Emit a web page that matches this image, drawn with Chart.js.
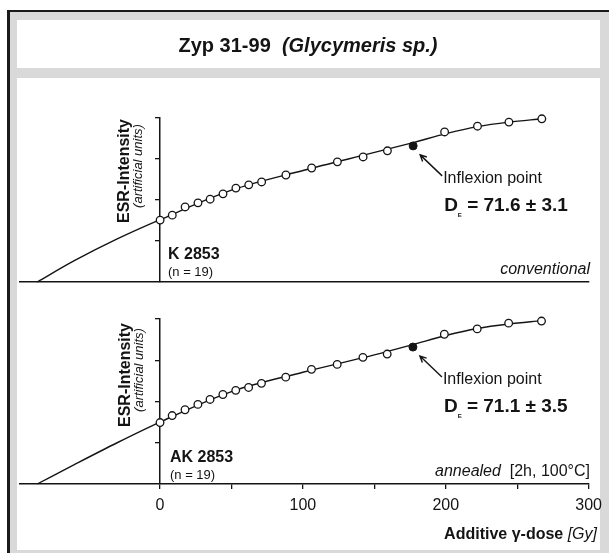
<!DOCTYPE html>
<html>
<head>
<meta charset="utf-8">
<script src="https://cdn.jsdelivr.net/npm/chart.js@4.4.0/dist/chart.umd.min.js"></script>
<style>
  body { margin: 0; width: 609px; height: 553px; background: #fff; position: relative; overflow: hidden; }
  #frame { position: absolute; left: 7px; top: 10px; right: 0; bottom: 0; background: #d9d9d9;
           border-left: 3px solid #1a1a1a; border-top: 2px solid #1a1a1a; }
  .box { position: absolute; background: #fff; }
  canvas { position: absolute; left: 0; top: 0; }
</style>
</head>
<body>
<div id="frame"></div>
<div class="box" style="left:17px;top:20px;width:583px;height:48px"></div>
<div class="box" style="left:17px;top:78px;width:583px;height:472px"></div>
<canvas id="chartTop" width="609" height="553"></canvas>
<canvas id="chartBottom" width="609" height="553"></canvas>
<script>
// Dados
const doses = [0, 8.5, 17.5, 26.5, 35, 44, 53, 62, 71, 88, 106, 124, 142, 159, 199, 222, 244, 267];
const intensityConv = [1.51, 1.63, 1.83, 1.93, 2.02, 2.15, 2.29, 2.37, 2.44, 2.61, 2.78, 2.93, 3.05, 3.20, 3.66, 3.80, 3.90, 3.98];
const intensityAnn = [1.49, 1.66, 1.80, 1.93, 2.05, 2.17, 2.27, 2.34, 2.44, 2.59, 2.78, 2.90, 3.07, 3.15, 3.63, 3.76, 3.90, 3.95];

// Ponto de inflexão (marcador preenchido)
const inflexionDose = 177;
const inflexionConv = 3.32;
const inflexionAnn = 3.32;

// Curva ajustada
const fitDoses = [-86, -60, -30, 0, 50, 100, 150, 177, 200, 222, 244, 267];
const fitConv = [0, 0.52, 1.05, 1.52, 2.24, 2.72, 3.16, 3.40, 3.62, 3.79, 3.90, 3.98];
const fitAnn = [0, 0.47, 1.00, 1.50, 2.24, 2.71, 3.13, 3.38, 3.60, 3.77, 3.88, 3.96];

const xTickValues = [0, 50, 100, 150, 200, 250, 300];
const xLabelValues = [0, 100, 200, 300];
const yTickValues = [1, 2, 3, 4];

const FONT = '"Liberation Sans", Arial, sans-serif';
const INK = '#141414';
Chart.defaults.font.family = FONT;
Chart.defaults.color = INK;

const toPoints = (xs, ys) => xs.map((x, i) => ({ x, y: ys[i] }));

// Desenha um texto composto de vários trechos (fontes diferentes)
const drawRuns = (ctx, runs, x, y, align) => {
    let w = 0;
    runs.forEach(([t, f]) => { ctx.font = f; w += ctx.measureText(t).width; });
    let cx = align === 'right' ? x - w : align === 'center' ? x - w / 2 : x;
    runs.forEach(([t, f, dy]) => {
        ctx.font = f;
        ctx.fillText(t, cx, y + (dy || 0));
        cx += ctx.measureText(t).width;
    });
};

const drawRotated = (ctx, runs, x, y) => {
    ctx.save();
    ctx.translate(x, y);
    ctx.rotate(-Math.PI / 2);
    drawRuns(ctx, runs, 0, 0, 'center');
    ctx.restore();
};

// Plugin com os textos, a seta e as legendas de cada painel
const panelText = {
    id: 'panelText',
    afterDatasetsDraw(chart, args, opts) {
        const ctx = chart.ctx;
        const xs = chart.scales.x, ys = chart.scales.y;
        ctx.save();
        ctx.fillStyle = INK;
        ctx.strokeStyle = INK;
        ctx.textBaseline = 'alphabetic';
        ctx.textAlign = 'left';

        drawRotated(ctx, [['ESR-Intensity', `bold 16px ${FONT}`]], opts.esrX, opts.esrY);
        drawRotated(ctx, [['(artificial units)', `italic 13px ${FONT}`]], opts.esrX + 13, opts.esrY - 5);

        drawRuns(ctx, [[opts.sample, `bold 16px ${FONT}`]], opts.sampleX, opts.sampleY, 'left');
        drawRuns(ctx, [['(n = 19)', `13px ${FONT}`]], opts.sampleX, opts.sampleY + 17, 'left');
        drawRuns(ctx, opts.method, 590, opts.methodY, 'right');

        // Seta até o ponto de inflexão
        const px = xs.getPixelForValue(inflexionDose);
        const py = ys.getPixelForValue(opts.inflexionY);
        const hx = px + 7, hy = py + 9, tx = px + 29, ty = py + 30;
        ctx.lineWidth = 1.4;
        ctx.beginPath();
        ctx.moveTo(tx, ty);
        ctx.lineTo(hx, hy);
        const ang = Math.atan2(hy - ty, hx - tx);
        ctx.moveTo(hx - 7 * Math.cos(ang - 0.45), hy - 7 * Math.sin(ang - 0.45));
        ctx.lineTo(hx, hy);
        ctx.lineTo(hx - 7 * Math.cos(ang + 0.45), hy - 7 * Math.sin(ang + 0.45));
        ctx.stroke();

        drawRuns(ctx, [['Inflexion point', `16px ${FONT}`]], px + 30, py + 37, 'left');
        drawRuns(ctx, [
            ['D', `bold 19px ${FONT}`],
            ['E', `bold 6px ${FONT}`, 6],
            [opts.deText, `bold 19px ${FONT}`]
        ], px + 31, py + 65, 'left');

        if (opts.header) {
            drawRuns(ctx, [
                ['Zyp 31-99  ', `bold 20px ${FONT}`],
                ['(Glycymeris sp.)', `italic bold 20px ${FONT}`]
            ], 308, 52, 'center');
        }
        if (opts.axisTitle) {
            drawRuns(ctx, [
                ['Additive \u03b3-dose ', `bold 16px ${FONT}`],
                ['[Gy]', `italic 16px ${FONT}`]
            ], 597, 539, 'right');
        }
        ctx.restore();
    }
};

const criarPainel = (canvasId, cfg) => {
    const ctx = document.getElementById(canvasId).getContext('2d');
    return new Chart(ctx, {
        type: 'scatter',
        data: {
            datasets: [
                {
                    label: 'inflexion',
                    data: [{ x: inflexionDose, y: cfg.inflexionY }],
                    pointRadius: 4, pointBackgroundColor: INK, pointBorderColor: INK,
                    pointBorderWidth: 1, clip: false, order: 0
                },
                {
                    label: 'samples',
                    data: toPoints(doses, cfg.values),
                    pointRadius: 3.8, pointBackgroundColor: '#fff', pointBorderColor: INK,
                    pointBorderWidth: 1.3, clip: false, order: 1
                },
                {
                    label: 'fit',
                    data: toPoints(fitDoses, cfg.fit),
                    showLine: true, pointRadius: 0, borderColor: INK, borderWidth: 1.4,
                    cubicInterpolationMode: 'monotone', clip: false, order: 2
                }
            ]
        },
        options: {
            responsive: false,
            animation: false,
            events: [],
            layout: { padding: cfg.padding },
            plugins: {
                legend: { display: false },
                tooltip: { enabled: false },
                panelText: cfg.text
            },
            scales: {
                x: {
                    type: 'linear', min: -98, max: 300, position: 'bottom',
                    afterBuildTicks: (axis) => { axis.ticks = xTickValues.map(v => ({ value: v })); },
                    afterFit: (axis) => { axis.height = cfg.xHeight; },
                    border: { display: true, color: INK, width: 1.5 },
                    grid: { display: cfg.xTicks, drawOnChartArea: false, drawTicks: true, tickLength: 5, color: INK, lineWidth: 1.3 },
                    ticks: {
                        display: cfg.xTicks, padding: 7, color: INK, maxRotation: 0, autoSkip: false,
                        font: { size: 16, family: FONT },
                        callback: (v) => xLabelValues.includes(v) ? String(v) : ''
                    }
                },
                y: {
                    type: 'linear', min: 0, max: 4, position: { x: 0 },
                    afterBuildTicks: (axis) => { axis.ticks = yTickValues.map(v => ({ value: v })); },
                    border: { display: true, color: INK, width: 1.5 },
                    grid: { drawOnChartArea: false, drawTicks: true, tickLength: 4, color: INK, lineWidth: 1.3 },
                    ticks: { display: false }
                }
            }
        },
        plugins: [panelText]
    });
};

criarPainel('chartTop', {
    values: intensityConv, fit: fitConv, inflexionY: inflexionConv, xTicks: false, xHeight: 0,
    padding: { left: 20, right: 20, top: 118, bottom: 271 },
    text: {
        esrX: 129, esrY: 171, sample: 'K 2853', sampleX: 168, sampleY: 259,
        method: [['conventional', `italic 16px ${FONT}`]], methodY: 274,
        inflexionY: inflexionConv, deText: ' = 71.6 \u00b1 3.1', header: true, axisTitle: false
    }
});

criarPainel('chartBottom', {
    values: intensityAnn, fit: fitAnn, inflexionY: inflexionAnn, xTicks: true, xHeight: 30,
    padding: { left: 20, right: 20, top: 319, bottom: 39 },
    text: {
        esrX: 130, esrY: 375, sample: 'AK 2853', sampleX: 170, sampleY: 462,
        method: [['annealed', `italic 16px ${FONT}`], ['  [2h, 100\u00b0C]', `16px ${FONT}`]], methodY: 476,
        inflexionY: inflexionAnn, deText: ' = 71.1 \u00b1 3.5', header: false, axisTitle: true
    }
});
</script>
</body>
</html>
